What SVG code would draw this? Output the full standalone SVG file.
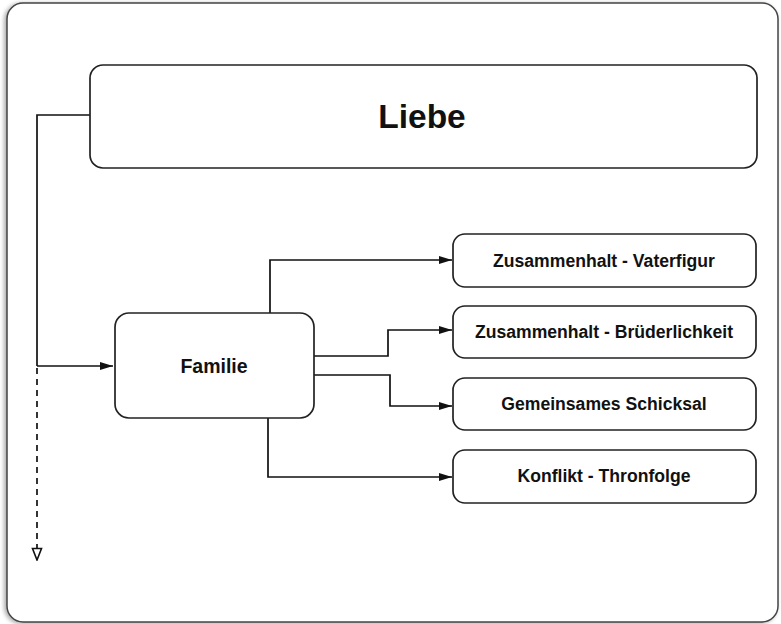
<svg xmlns="http://www.w3.org/2000/svg" width="781" height="624" viewBox="0 0 781 624">
<defs>
<marker id="arr" viewBox="0 0 13 10" refX="13" refY="5" markerWidth="13" markerHeight="10" markerUnits="userSpaceOnUse" orient="auto">
<path d="M0,1 L13,5 L0,9 Z" fill="#111"/>
</marker>
<marker id="hollow" viewBox="0 0 12 14" refX="6" refY="13" markerWidth="12" markerHeight="14" markerUnits="userSpaceOnUse" orient="0">
<path d="M1.5,1.5 L10.5,1.5 L6,13 Z" fill="#fff" stroke="#111" stroke-width="1.6"/>
</marker>
<filter id="sh" x="-5%" y="-5%" width="110%" height="110%">
<feDropShadow dx="-2" dy="1" stdDeviation="2" flood-color="#000" flood-opacity="0.35"/>
</filter>
</defs>
<style>
.box{fill:#fff;stroke:#222;stroke-width:1.7}
.ln{fill:none;stroke:#111;stroke-width:1.7}
.t{font-family:"Liberation Sans",Arial,sans-serif;font-weight:bold;fill:#111;text-anchor:middle}
</style>
<rect width="781" height="624" fill="#fff"/>
<rect x="7" y="3" width="771" height="619" rx="16" fill="#fff" stroke="#444" stroke-width="1.5" filter="url(#sh)"/>
<g id="connectors">
<path class="ln" d="M90,115 H37 V366"/>
<path class="ln" d="M37,366 H113" marker-end="url(#arr)"/>
<path class="ln" d="M37,368 V560" stroke-dasharray="6,5" marker-end="url(#hollow)"/>
<path class="ln" d="M270,313 V260 H452" marker-end="url(#arr)"/>
<path class="ln" d="M314,356 H388 V330 H452" marker-end="url(#arr)"/>
<path class="ln" d="M314,375 H390 V406 H452" marker-end="url(#arr)"/>
<path class="ln" d="M268,418 V477 H452" marker-end="url(#arr)"/>
</g>
<g id="liebe">
<rect class="box" x="90" y="65" width="667" height="103" rx="13"/>
<text class="t" x="422" y="128" font-size="33.5">Liebe</text>
</g>
<g id="familie">
<rect class="box" x="115" y="313" width="199" height="105" rx="14"/>
<text class="t" x="214" y="373" font-size="19.5">Familie</text>
</g>
<g id="vaterfigur">
<rect class="box" x="453" y="234" width="303" height="53" rx="12"/>
<text class="t" x="604" y="267" font-size="17.6">Zusammenhalt - Vaterfigur</text>
</g>
<g id="bruederlichkeit">
<rect class="box" x="453" y="306" width="303" height="52" rx="12"/>
<text class="t" x="604" y="338" font-size="17.6">Zusammenhalt - Brüderlichkeit</text>
</g>
<g id="schicksal">
<rect class="box" x="453" y="378" width="303" height="52" rx="12"/>
<text class="t" x="604" y="410" font-size="17.6">Gemeinsames Schicksal</text>
</g>
<g id="thronfolge">
<rect class="box" x="453" y="450" width="303" height="53" rx="12"/>
<text class="t" x="604" y="482" font-size="17.6">Konflikt - Thronfolge</text>
</g>
</svg>
